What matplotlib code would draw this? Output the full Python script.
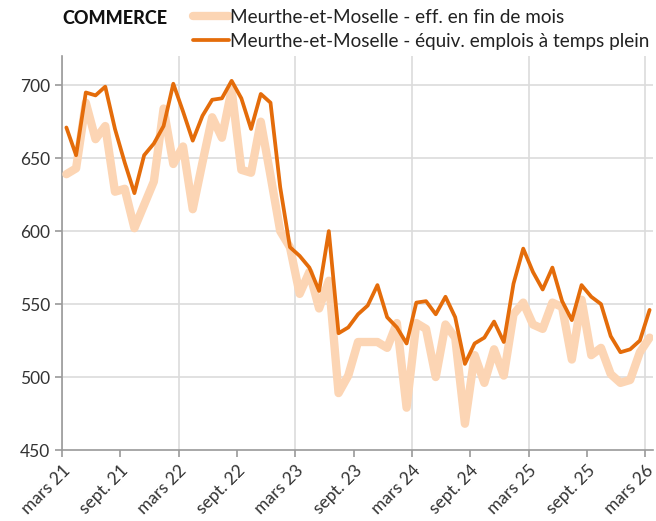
import numpy as np
import matplotlib
matplotlib.use("Agg")
import matplotlib.pyplot as plt
from matplotlib.lines import Line2D

plt.rcParams['font.family'] = ['Lato', 'DejaVu Sans']

# monthly values, mars 2021 -> mars 2026
effectifs = [639, 643, 688, 663, 672, 627, 629, 602, 618, 634,
             684, 646, 658, 615, 647, 678, 664, 697, 642, 640,
             675, 638, 600, 589, 557, 572, 547, 566, 489, 501,
             524, 524, 524, 520, 537, 479, 537, 533, 500, 536,
             527, 468, 515, 496, 519, 501, 543, 551, 536, 533,
             551, 548, 512, 553, 515, 520, 502, 496, 498, 517, 527]
etp = [671, 652, 695, 693, 699, 670, 647, 626, 652, 660,
       672, 701, 682, 662, 679, 690, 691, 703, 691, 670,
       694, 688, 630, 589, 583, 575, 559, 600, 530, 534,
       543, 549, 563, 541, 534, 523, 551, 552, 543, 555,
       541, 509, 523, 527, 538, 524, 564, 588, 572, 560,
       575, 552, 539, 563, 555, 550, 528, 517, 519, 525, 546]
tick_labels = ['mars 21', 'sept. 21', 'mars 22', 'sept. 22', 'mars 23', 'sept. 23',
               'mars 24', 'sept. 24', 'mars 25', 'sept. 25', 'mars 26']
y_ticks = [450, 500, 550, 600, 650, 700]

label_eff = 'Meurthe-et-Moselle - eff. en fin de mois'
label_etp = 'Meurthe-et-Moselle - équiv. emplois à temps plein'

light = '#FCD5B4'
orange = '#E46C0A'
grid_c = '#DCDCDC'
axis_c = '#9A9A9A'
text_c = '#333333'

# month index, points sit mid-month
x = np.arange(len(etp)) + 0.45

fig = plt.figure(figsize=(6.56, 5.21), dpi=100)
ax = fig.add_axes([62 / 656, 1 - 450 / 521, 591 / 656, 394 / 521])

ax.plot(x, effectifs, color=light, lw=6, solid_joinstyle='round', solid_capstyle='round', zorder=3)
ax.plot(x, etp, color=orange, lw=2.7, solid_joinstyle='round', solid_capstyle='round', zorder=4)

ax.set_ylim(450, 720)
ax.set_xlim(0, 60.8)
ax.set_yticks(y_ticks)
ax.set_xticks(np.arange(0, 61, 6))
ax.set_xticklabels(tick_labels, rotation=45, ha='right', rotation_mode='anchor')

# gridlines only at the march ticks
for xv in np.arange(0, 61, 12):
    ax.axvline(xv, color=grid_c, lw=1.2, zorder=1)
for yv in y_ticks[1:]:
    ax.axhline(yv, color=grid_c, lw=1.2, zorder=1)

for s in ['top', 'right']:
    ax.spines[s].set_visible(False)
for s in ['left', 'bottom']:
    ax.spines[s].set_color(axis_c)
    ax.spines[s].set_linewidth(1.2)
ax.tick_params(axis='both', colors=axis_c, length=5, width=1.2, labelcolor=text_c, labelsize=12.5)
ax.tick_params(axis='x', pad=4)

fig.text(62 / 656, 1 - 18 / 521, 'COMMERCE', fontsize=13, fontweight=900, color='#111111', va='center')

handles = [Line2D([], [], color=light, lw=6, solid_capstyle='round'),
           Line2D([], [], color=orange, lw=2.7, solid_capstyle='round')]
fig.legend(handles, [label_eff, label_etp], loc='upper left',
           bbox_to_anchor=(193 / 656, 1 - 9 / 521), frameon=False,
           fontsize=13.6, handlelength=1.9, handletextpad=0.08, labelspacing=0.36,
           borderaxespad=0, borderpad=0, labelcolor='#222222')

fig.savefig('out.png', dpi=100)
